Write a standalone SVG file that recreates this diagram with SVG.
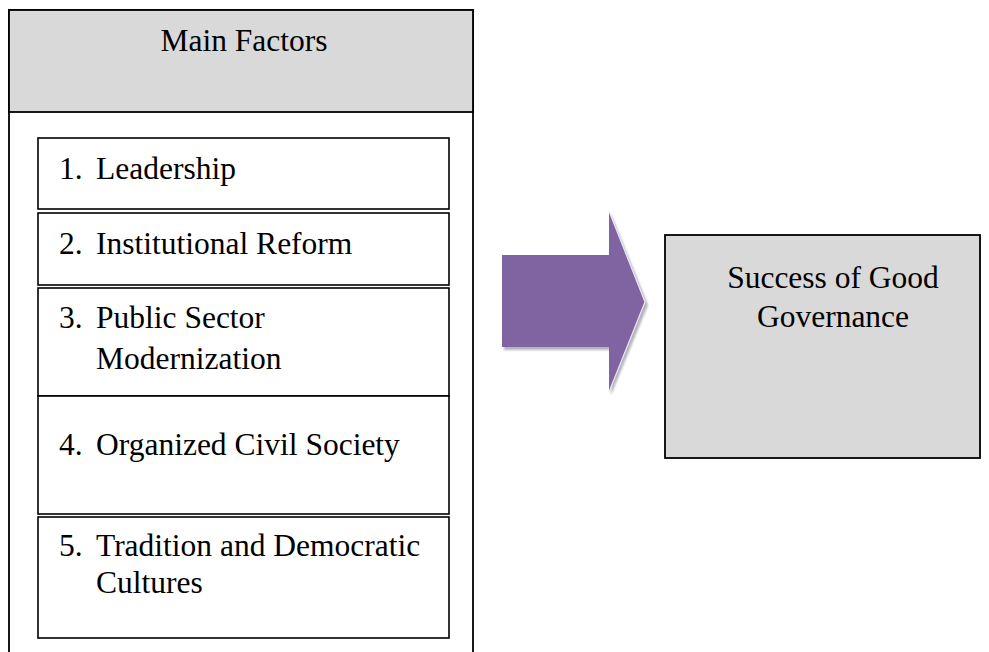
<svg xmlns="http://www.w3.org/2000/svg" width="989" height="652" viewBox="0 0 989 652">
<style>
  .t { font-family: "Liberation Serif", "Times New Roman", serif; font-size: 31.5px; fill: #000; }
  .box { fill: #fff; stroke: #000; stroke-width: 1.6; }
  .gray { fill: #d9d9d9; stroke: #000; stroke-width: 1.8; }
</style>
<defs>
  <filter id="sh" x="-20%" y="-20%" width="140%" height="140%">
    <feGaussianBlur stdDeviation="1.2"/>
  </filter>
</defs>
<rect width="989" height="652" fill="#fff"/>
<g id="main-factors">
  <rect x="9" y="10" width="464" height="660" fill="#fff" stroke="#000" stroke-width="1.8"/>
  <rect class="gray" x="9" y="10" width="464" height="102"/>
  <text class="t" x="244" y="51" text-anchor="middle">Main Factors</text>
</g>
<g id="factor1">
  <rect class="box" x="38" y="138" width="411" height="71"/>
  <text class="t" x="59" y="179">1.</text><text class="t" x="96" y="179">Leadership</text>
</g>
<g id="factor2">
  <rect class="box" x="38" y="213" width="411" height="72"/>
  <text class="t" x="59" y="254">2.</text><text class="t" x="96" y="254">Institutional Reform</text>
</g>
<g id="factor3">
  <rect class="box" x="38" y="288" width="411" height="108"/>
  <text class="t" x="59" y="328">3.</text><text class="t" x="96" y="328">Public Sector</text>
  <text class="t" x="96" y="369">Modernization</text>
</g>
<g id="factor4">
  <rect class="box" x="38" y="396" width="411" height="118"/>
  <text class="t" x="59" y="455">4.</text><text class="t" x="96" y="455">Organized Civil Society</text>
</g>
<g id="factor5">
  <rect class="box" x="38" y="517" width="411" height="121"/>
  <text class="t" x="59" y="556">5.</text><text class="t" x="96" y="556">Tradition and Democratic</text>
  <text class="t" x="96" y="593">Cultures</text>
</g>
<g id="connectors">
  <path d="M504,258 H611 V214 L648,305 L611,395 V350 H504 Z" fill="#7f7f8f" opacity="0.6" filter="url(#sh)"/>
  <path d="M502,255 H609 V211 L645,302 L609,392 V347 H502 Z" fill="#8064a2"/>
  <path d="M609,211 L645,302 L609,392" fill="none" stroke="#ece6f3" stroke-width="1.2"/>
</g>
<g id="success">
  <rect class="gray" x="665" y="235" width="315" height="223"/>
  <text class="t" x="833" y="288" text-anchor="middle">Success of Good</text>
  <text class="t" x="833" y="327" text-anchor="middle">Governance</text>
</g>
</svg>
